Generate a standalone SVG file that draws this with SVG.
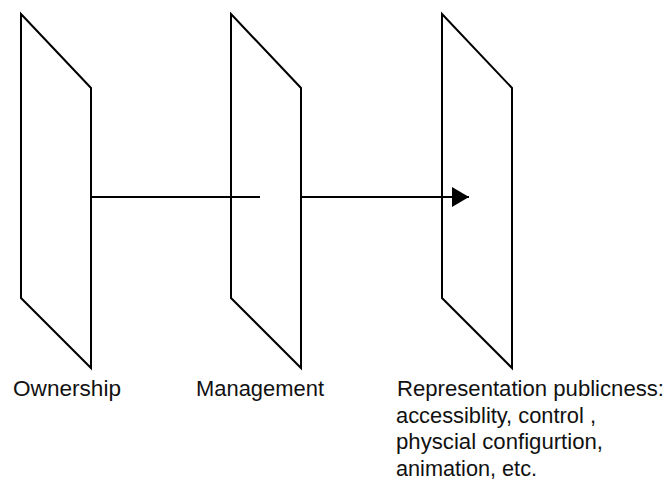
<svg xmlns="http://www.w3.org/2000/svg" width="671" height="480" viewBox="0 0 671 480">
<style>
.plane{fill:none;stroke:#000;stroke-width:2;stroke-linejoin:miter}
.conn{stroke:#000;stroke-width:2;fill:none}
text{font-family:"Liberation Sans",Arial,sans-serif;font-size:22.5px;fill:#111}
</style>
<defs>
<marker id="arrow" markerWidth="17" markerHeight="20" refX="17" refY="10" orient="auto" markerUnits="userSpaceOnUse">
<path d="M0,0 L17,10 L0,20 Z" fill="#000"/>
</marker>
</defs>
<rect width="671" height="480" fill="#fff"/>
<g id="ownership">
<path class="plane" d="M21,14 L91,88 L91,368 L21,298 Z"/>
<text x="13" y="396" textLength="108" lengthAdjust="spacingAndGlyphs">Ownership</text>
</g>
<g id="management">
<path class="plane" d="M231,14 L301,88 L301,368 L231,298 Z"/>
<text x="196" y="396" textLength="128" lengthAdjust="spacingAndGlyphs">Management</text>
</g>
<g id="representation">
<path class="plane" d="M442,14 L512,88 L512,368 L442,298 Z"/>
<text x="397" y="396" textLength="267" lengthAdjust="spacingAndGlyphs">Representation publicness:</text>
<text x="396" y="422.5" textLength="200" lengthAdjust="spacingAndGlyphs">accessiblity, control ,</text>
<text x="396" y="449" textLength="207" lengthAdjust="spacingAndGlyphs">physcial configurtion,</text>
<text x="396" y="475.5" textLength="141" lengthAdjust="spacingAndGlyphs">animation, etc.</text>
</g>
<g id="connectors">
<line class="conn" x1="91" y1="197" x2="260" y2="197"/>
<line class="conn" x1="301" y1="197" x2="469" y2="197" marker-end="url(#arrow)"/>
</g>
</svg>
